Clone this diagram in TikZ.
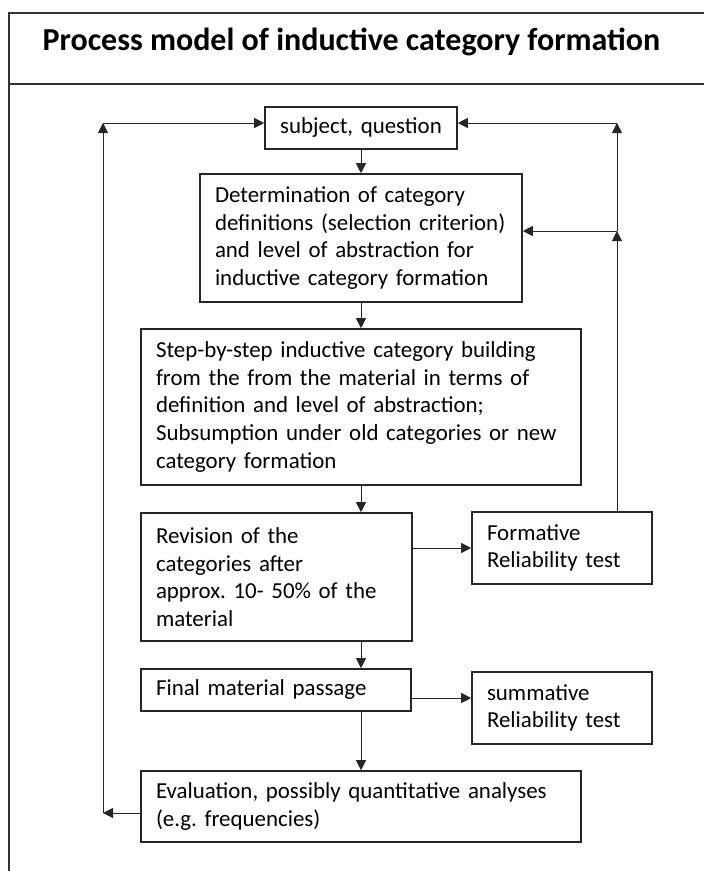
\documentclass[tikz,border=0pt]{standalone}
\usepackage{fontspec}
\setmainfont{Carlito}
\usetikzlibrary{arrows.meta}
\frenchspacing

\begin{document}
\begin{tikzpicture}[x=1pt,y=-1pt,
  box/.style={draw=black!85, line width=1.6pt, inner xsep=15pt, inner ysep=0pt,
    align=left, font=\fontsize{22.9}{27.7}\selectfont},
  flow/.style={draw=black!85, line width=1pt, -{Triangle[length=10pt,width=10pt]}},
  frame/.style={draw=black!80, line width=2pt}]
\useasboundingbox (0,0) rectangle (704,871);
\clip (0,0) rectangle (704,871);
\fill[white] (0,0) rectangle (704,871);

% outer frame and title band
\draw[frame] (9,900) -- (9,13) -- (720,13);
\draw[frame] (9,84) -- (720,84);
\node[anchor=base, font=\bfseries\fontsize{32}{38}\selectfont] (title) at (351.5,50)
  {Process model of inductive category formation};

% process steps
\node[box, align=center, text width=162pt, minimum height=42pt] (subj) at (361,128)
  {subject, question};
\node[box, text width=292pt, minimum height=128pt] (det) at (361,238)
  {Determination of category\\definitions (selection criterion)\\and level of abstraction for\\inductive category formation};
\node[box, text width=410pt, minimum height=156pt] (step) at (361,407)
  {Step-by-step inductive category building\\from the from the material in terms of\\definition and level of abstraction;\\Subsumption under old categories or new\\category formation};
\node[box, text width=241pt, minimum height=128pt] (rev) at (276.5,577)
  {Revision of the\\categories after\\approx. 10- 50\% of the\\material};
\node[box, text width=150pt, minimum height=72pt] (form) at (562,548)
  {Formative\\Reliability test};
\node[box, text width=240pt, minimum height=42pt] (final) at (276,690)
  {Final material passage};
\node[box, text width=150pt, minimum height=72pt] (summ) at (562,708)
  {summative\\Reliability test};
\node[box, text width=410pt, minimum height=71pt] (eval) at (361,806.5)
  {Evaluation, possibly quantitative analyses\\(e.g. frequencies)};

% corner points of the feedback loops
\coordinate (rt) at (617,123);
\coordinate (rm) at (617,231);
\coordinate (lt) at (103,123);
\coordinate (lb) at (103,813);

% main flow
\draw[flow] (subj) -- (det);
\draw[flow] (det) -- (step);
\draw[flow] (step.south) -- (step.south |- rev.north);
\draw[flow] (step.south |- rev.south) -- (step.south |- final.north);
\draw[flow] (step.south |- final.south) -- (eval.north);

% side tests
\draw[flow] (rev.east |- form.west) -- (form.west);
\draw[flow] ([yshift=-8pt]final.east) -- ([yshift=-8pt]final.east -| summ.west);

% formative feedback on the right
\draw[flow] (rm |- form.north) -- (rm);
\draw[flow] (rm) -- (rt);
\draw[flow] (rm) -- (rm -| det.east);
\draw[flow] (rt) -- (rt -| subj.east);

% overall feedback on the left
\draw[flow] (eval.west |- lb) -- (lb);
\draw[flow] (lb) -- (lt);
\draw[flow] (lt) -- (lt -| subj.west);
\end{tikzpicture}
\end{document}
